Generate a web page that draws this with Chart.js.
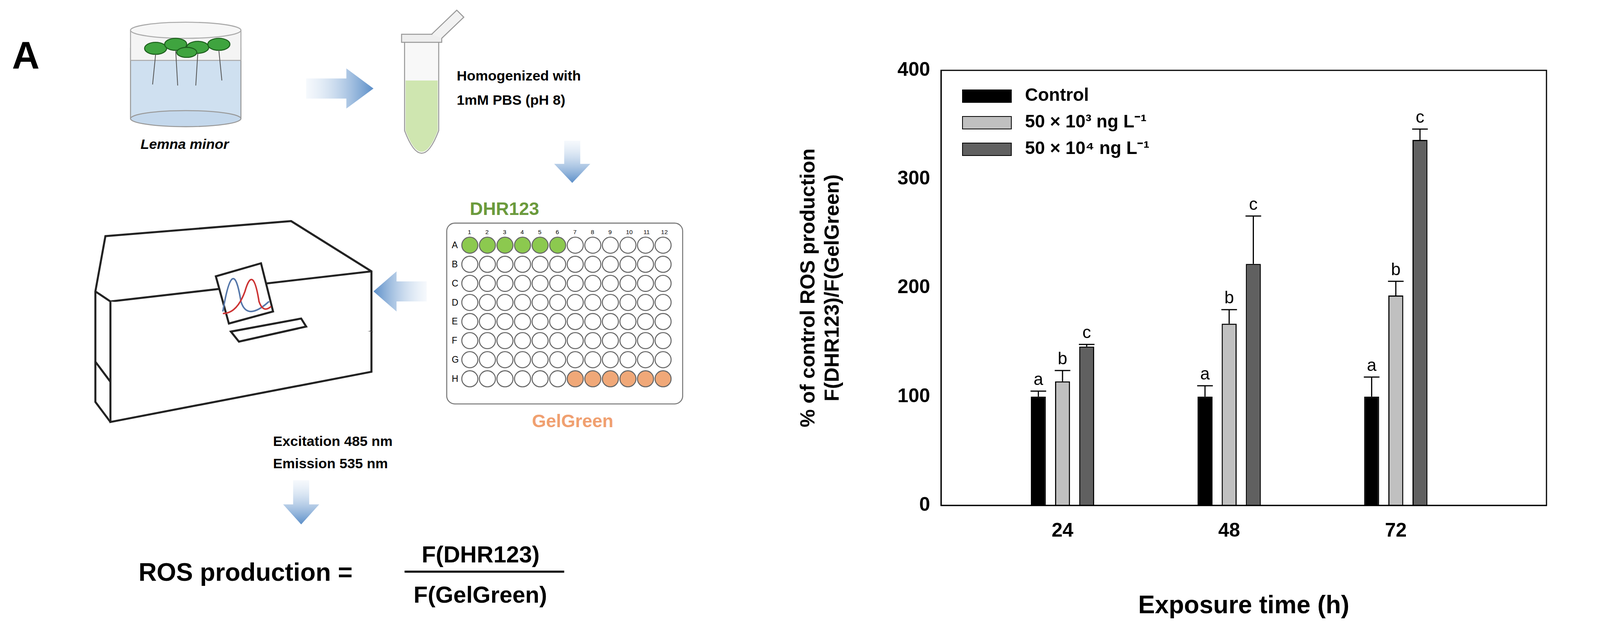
<!DOCTYPE html>
<html>
<head>
<meta charset="UTF-8">
<script src="https://cdn.jsdelivr.net/npm/chart.js"></script>
<style>
  body { margin: 0; background: #fff; width: 4112px; height: 1594px; position: relative; overflow: hidden; }
  #panelA { position: absolute; left: 0; top: 0; }
  #wrapB { position: absolute; left: 1990px; top: 0; width: 2122px; height: 1594px; }
  svg text { font-family: "Liberation Sans", Arial, sans-serif; }
</style>
</head>
<body>
<svg id="panelA" width="2056" height="1594" viewBox="0 0 800 620">
  <defs>
    <linearGradient id="arr" x1="0" x2="1"><stop offset="0" stop-color="#dfeaf6" stop-opacity="0.3"/><stop offset="1" stop-color="#5b8ec8"/></linearGradient>
    <linearGradient id="arrD" x1="0" x2="0" y1="0" y2="1"><stop offset="0" stop-color="#dfeaf6" stop-opacity="0.3"/><stop offset="1" stop-color="#5b8ec8"/></linearGradient>
    <linearGradient id="arrL" x1="1" x2="0"><stop offset="0" stop-color="#dfeaf6" stop-opacity="0.3"/><stop offset="1" stop-color="#5b8ec8"/></linearGradient>
  </defs>
  <text x="12" y="68" font-size="38" font-weight="bold">A</text>
  <!-- beaker -->
  <rect x="130" y="48" width="110" height="70" fill="#cfe0f0" stroke="#999"/>
  <rect x="130" y="30" width="110" height="30" fill="#f4f4f4" stroke="#aaa"/>
  <ellipse cx="185" cy="30" rx="55" ry="8" fill="#f6f6f6" stroke="#aaa"/>
  <ellipse cx="185" cy="118" rx="55" ry="8" fill="#c4d8ec" stroke="#999"/>
  <g fill="#3fa43f" stroke="#1d5f1d">
    <ellipse cx="155" cy="48" rx="11" ry="6"/><ellipse cx="175" cy="44" rx="11" ry="6"/>
    <ellipse cx="197" cy="47" rx="11" ry="6"/><ellipse cx="218" cy="44" rx="11" ry="6"/>
    <ellipse cx="186" cy="52" rx="10" ry="5"/>
  </g>
  <g stroke="#555" stroke-width="0.8" fill="none">
    <path d="M155 54 l-3 30"/><path d="M175 50 l2 35"/><path d="M197 53 l-2 32"/><path d="M218 50 l3 30"/>
  </g>
  <text x="140" y="148" font-size="14" font-weight="bold" font-style="italic">Lemna minor</text>
  <!-- arrow 1 -->
  <polygon points="305,78 345,78 345,68 372,88 345,108 345,98 305,98" fill="url(#arr)"/>
  <!-- tube -->
  <path d="M403 40 L437 40 L437 130 Q420 175 403 130 Z" fill="#f8f8f8" stroke="#999"/>
  <path d="M404 80 L436 80 L436 130 Q420 172 404 130 Z" fill="#cfe6b0"/>
  <rect x="400" y="34" width="40" height="8" fill="#eee" stroke="#999"/>
  <path d="M430 34 L455 10 L462 17 L440 38" fill="#f2f2f2" stroke="#999"/>
  <text x="455" y="80" font-size="14" font-weight="bold">Homogenized with</text>
  <text x="455" y="104" font-size="14" font-weight="bold">1mM PBS  (pH 8)</text>
  <!-- down arrow -->
  <polygon points="562,140 578,140 578,163 588,163 570,182 552,163 562,163" fill="url(#arrD)"/>
  <!-- plate -->
  <text x="468" y="214" font-size="18" font-weight="bold" fill="#6b9a3c">DHR123</text>
  <rect x="445" y="222" width="235" height="180" rx="8" fill="#fff" stroke="#777"/>
  <g id="wells"></g>
  <text x="530" y="425" font-size="18" font-weight="bold" fill="#f0a070">GelGreen</text>
  <!-- left arrow -->
  <polygon points="425,280 395,280 395,270 372,290 395,310 395,300 425,300" fill="url(#arrL)"/>
  <!-- reader -->
  <g stroke="#222" stroke-width="2" fill="#fff">
    <path d="M95 290 L105 235 L290 220 L370 270 L370 330 L110 380 L95 360 Z"/>
    <path d="M95 290 L110 300 L370 270"/>
    <path d="M110 300 L110 420 L370 370 L370 330"/>
    <path d="M110 420 L95 400 L95 360"/>
    <path d="M215 275 L260 262 L272 310 L228 322 Z"/>
    <path d="M230 330 L300 317 L305 325 L238 340 Z"/>
  </g>
  <path d="M222 310 Q232 250 240 300 Q246 320 268 300" stroke="#5577aa" stroke-width="1.5" fill="none"/>
  <path d="M222 312 Q236 312 244 290 Q252 262 258 300 Q262 312 270 305" stroke="#cc3333" stroke-width="1.5" fill="none"/>
  <text x="272" y="444" font-size="14" font-weight="bold">Excitation 485 nm</text>
  <text x="272" y="466" font-size="14" font-weight="bold">Emission 535 nm</text>
  <polygon points="292,478 308,478 308,502 318,502 300,522 282,502 292,502" fill="url(#arrD)"/>
  <text x="138" y="578" font-size="25" font-weight="bold">ROS production =</text>
  <text x="420" y="560" font-size="23" font-weight="bold">F(DHR123)</text>
  <line x1="403" y1="569" x2="562" y2="569" stroke="#000" stroke-width="2"/>
  <text x="412" y="600" font-size="23" font-weight="bold">F(GelGreen)</text>
</svg>

<div id="wrapB"><canvas id="chartB"></canvas></div>

<script>
// plate wells
(function () {
  const g = document.getElementById("wells");
  const ns = "http://www.w3.org/2000/svg";
  const rows = "ABCDEFGH";
  for (let r = 0; r < 8; r++) {
    const t = document.createElementNS(ns, "text");
    t.setAttribute("x", 450); t.setAttribute("y", 247 + r * 19);
    t.setAttribute("font-size", 9); t.textContent = rows[r];
    g.appendChild(t);
    for (let c = 0; c < 12; c++) {
      const e = document.createElementNS(ns, "circle");
      e.setAttribute("cx", 468 + c * 17.5); e.setAttribute("cy", 244 + r * 19);
      e.setAttribute("r", 8);
      let fill = "#fff";
      if (r === 0 && c < 6) fill = "#8cc94f";
      if (r === 7 && c >= 6) fill = "#f0a878";
      e.setAttribute("fill", fill); e.setAttribute("stroke", "#666");
      g.appendChild(e);
    }
  }
  for (let c = 0; c < 12; c++) {
    const t = document.createElementNS(ns, "text");
    t.setAttribute("x", 466 + c * 17.5); t.setAttribute("y", 233);
    t.setAttribute("font-size", 6); t.textContent = c + 1;
    g.appendChild(t);
  }
})();

const times = [24, 48, 72];
const seriesNames = ["Control", "50 × 10³ ng L⁻¹", "50 × 10⁴ ng L⁻¹"];
const control = [100, 100, 100];
const low = [114, 167, 193];
const high = [146, 222, 336];
const controlErr = [5, 10, 18];
const lowErr = [10, 13, 13];
const highErr = [2, 44, 10];
const letters = [["a", "a", "a"], ["b", "b", "b"], ["c", "c", "c"]];
const yTicks = [0, 100, 200, 300, 400];

const colors = ["#000000", "#c0c0c0", "#606060"];
const errs = [controlErr, lowErr, highErr];
const FONT = "'Liberation Sans', Arial, sans-serif";

const datasets = [control, low, high].map((vals, i) => ({
  label: seriesNames[i],
  data: vals.map((v, j) => ({ x: times[j], y: v })),
  backgroundColor: colors[i],
  borderColor: "#000",
  borderWidth: 3,
  categoryPercentage: 0.435,
  barPercentage: 0.62
}));

const extras = {
  id: "extras",
  afterDatasetsDraw(chart) {
    const ctx = chart.ctx;
    const y = chart.scales.y;
    ctx.save();
    chart.data.datasets.forEach((ds, i) => {
      chart.getDatasetMeta(i).data.forEach((bar, j) => {
        const top = y.getPixelForValue(ds.data[j].y + errs[i][j]);
        ctx.strokeStyle = "#000"; ctx.lineWidth = 3;
        ctx.beginPath();
        ctx.moveTo(bar.x, bar.y); ctx.lineTo(bar.x, top);
        ctx.moveTo(bar.x - 20, top); ctx.lineTo(bar.x + 20, top);
        ctx.stroke();
        ctx.fillStyle = "#000";
        ctx.font = "44px " + FONT;
        ctx.textAlign = "center"; ctx.textBaseline = "bottom";
        ctx.fillText(letters[i][j], bar.x, top - 6);
      });
    });
    // legend inside plot
    const a = chart.chartArea;
    ctx.textAlign = "left"; ctx.textBaseline = "middle";
    ctx.font = "bold 46px " + FONT;
    seriesNames.forEach((n, i) => {
      const ly = a.top + 65 + i * 68;
      ctx.fillStyle = colors[i];
      ctx.fillRect(a.left + 55, ly - 15, 125, 32);
      ctx.strokeStyle = "#000"; ctx.lineWidth = 2;
      ctx.strokeRect(a.left + 55, ly - 15, 125, 32);
      ctx.fillStyle = "#000";
      ctx.fillText(n, a.left + 215, ly);
    });
    // frame
    ctx.strokeStyle = "#000"; ctx.lineWidth = 3;
    ctx.strokeRect(a.left, a.top, a.right - a.left, a.bottom - a.top);
    ctx.restore();
  }
};

new Chart(document.getElementById("chartB"), {
  type: "bar",
  data: { datasets },
  plugins: [extras],
  options: {
    responsive: true,
    maintainAspectRatio: false,
    animation: false,
    layout: { padding: { left: 45, top: 180, right: 153, bottom: 0 } },
    plugins: { legend: { display: false }, tooltip: { enabled: false } },
    scales: {
      x: {
        type: "linear",
        offset: false,
        min: 6.5, max: 93.7,
        afterBuildTicks: s => { s.ticks = times.map(v => ({ value: v })); },
        afterFit: s => { s.height = 301; },
        grid: { display: false, drawTicks: true, tickLength: 14, tickColor: "#000" },
        border: { color: "#000", width: 3 },
        ticks: { color: "#000", font: { family: FONT, size: 50, weight: "bold" }, padding: 22 },
        title: { display: true, text: "Exposure time (h)", color: "#000", font: { family: FONT, size: 64, weight: "bold" }, padding: { top: 40 } }
      },
      y: {
        min: 0, max: 400,
        afterBuildTicks: s => { s.ticks = yTicks.map(v => ({ value: v })); },
        afterFit: s => { s.width = 374; },
        grid: { display: false },
        border: { color: "#000", width: 3 },
        ticks: { color: "#000", font: { family: FONT, size: 50, weight: "bold" }, padding: 20 },
        title: {
          display: true,
          text: ["% of control ROS production", "F(DHR123)/F(GelGreen)"],
          color: "#000",
          font: { family: FONT, size: 52, weight: "bold" },
          padding: { bottom: 30 }
        }
      }
    }
  }
});
</script>
</body>
</html>
